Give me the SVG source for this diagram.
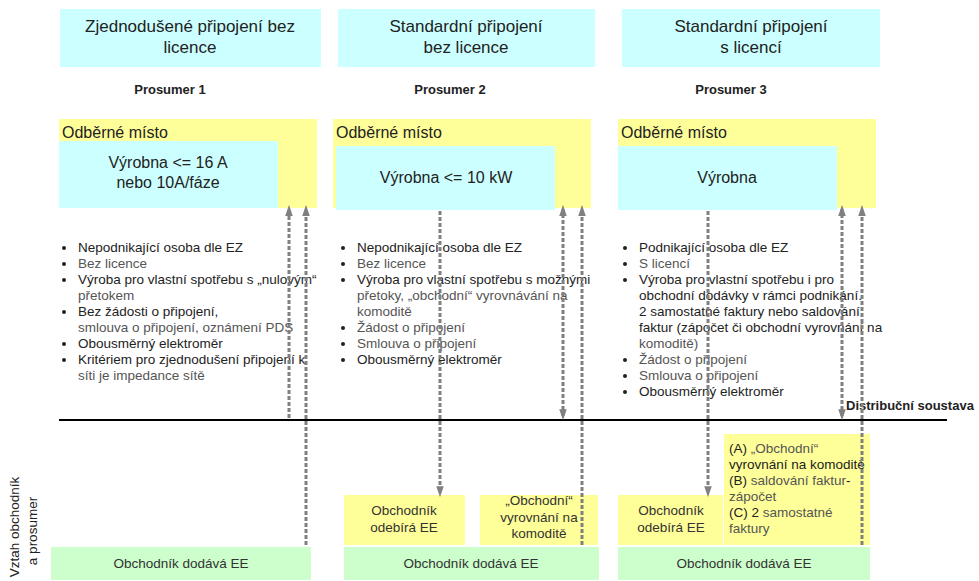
<svg xmlns="http://www.w3.org/2000/svg" width="979" height="581" viewBox="0 0 979 581">
  <style>
    text { font-family: "Liberation Sans", Arial, sans-serif; fill: #222; }
    .head { font-size: 17px; text-anchor: middle; }
    .pros { font-size: 13px; font-weight: bold; text-anchor: middle; }
    .om { font-size: 16px; }
    .vy { font-size: 16px; text-anchor: middle; }
    .li { font-size: 13.5px; }
    .g { fill: #555; }
    .bx { font-size: 13.5px; text-anchor: middle; fill: #333; }
    .bl { font-size: 13.5px; }
    .cyan { fill: #CCFFFF; }
    .yel { fill: #FFFF99; }
    .grn { fill: #CCFFCC; }
    .flow { stroke: #808080; stroke-width: 3; stroke-dasharray: 4 2; fill: none; }
    .dot { fill: #222; }
  </style>
  <defs>
    <marker id="ah" markerUnits="userSpaceOnUse" markerWidth="11" markerHeight="16" refX="10" refY="5.5" orient="auto-start-reverse" viewBox="0 0 16 11">
      <path d="M0,0 L16,5.5 L0,11 Z" fill="#808080"/>
    </marker>
  </defs>

  <rect width="979" height="581" fill="#fff"/>

  <!-- column headers -->
  <g id="head1"><rect class="cyan" x="60" y="9" width="261" height="58"/>
    <text class="head" x="190" y="32">Zjednodušené připojení bez</text>
    <text class="head" x="190" y="53">licence</text></g>
  <g id="head2"><rect class="cyan" x="338" y="9" width="257" height="58"/>
    <text class="head" x="466" y="32">Standardní připojení</text>
    <text class="head" x="466" y="53">bez licence</text></g>
  <g id="head3"><rect class="cyan" x="622" y="9" width="258" height="58"/>
    <text class="head" x="751" y="32">Standardní připojení</text>
    <text class="head" x="751" y="53">s licencí</text></g>

  <text class="pros" x="170" y="94">Prosumer 1</text>
  <text class="pros" x="450" y="94">Prosumer 2</text>
  <text class="pros" x="731" y="94">Prosumer 3</text>

  <!-- consumption points with generating plants -->
  <g id="om1"><rect class="yel" x="59" y="119" width="258" height="89"/>
    <text class="om" x="62" y="138">Odběrné místo</text>
    <rect class="cyan" x="59" y="141" width="219" height="67"/>
    <text class="vy" x="168" y="168">Výrobna &lt;= 16 A</text>
    <text class="vy" x="168" y="188">nebo 10A/fáze</text></g>
  <g id="om2"><rect class="yel" x="333" y="119" width="258" height="89"/>
    <text class="om" x="336" y="138">Odběrné místo</text>
    <rect class="cyan" x="336" y="146" width="219" height="64"/>
    <text class="vy" x="446" y="183">Výrobna &lt;= 10 kW</text></g>
  <g id="om3"><rect class="yel" x="618" y="119" width="258" height="89"/>
    <text class="om" x="621" y="138">Odběrné místo</text>
    <rect class="cyan" x="618" y="146" width="219" height="64"/>
    <text class="vy" x="727" y="183">Výrobna</text></g>

  <!-- bullet lists -->
  <g id="list1" class="li">
    <circle class="dot" cx="64" cy="248" r="2"/><text x="78" y="252">Nepodnikající osoba dle EZ</text>
    <circle class="dot" cx="64" cy="264" r="2"/><text class="g" x="78" y="268">Bez licence</text>
    <circle class="dot" cx="64" cy="280" r="2"/><text x="78" y="284">Výroba pro vlastní spotřebu s „nulovým“</text>
    <text class="g" x="78" y="300">přetokem</text>
    <circle class="dot" cx="64" cy="312" r="2"/><text x="78" y="316">Bez žádosti o připojení,</text>
    <text class="g" x="78" y="332">smlouva o připojení, oznámení PDS</text>
    <circle class="dot" cx="64" cy="344" r="2"/><text x="78" y="348">Obousměrný elektroměr</text>
    <circle class="dot" cx="64" cy="360" r="2"/><text x="78" y="364">Kritériem pro zjednodušení připojení k</text>
    <text class="g" x="78" y="380">síti je impedance sítě</text>
  </g>
  <g id="list2" class="li">
    <circle class="dot" cx="343" cy="248" r="2"/><text x="357" y="252">Nepodnikající osoba dle EZ</text>
    <circle class="dot" cx="343" cy="264" r="2"/><text class="g" x="357" y="268">Bez licence</text>
    <circle class="dot" cx="343" cy="280" r="2"/><text x="357" y="284">Výroba pro vlastní spotřebu s možnými</text>
    <text class="g" x="357" y="300">přetoky, „obchodní“ vyrovnávání na</text>
    <text class="g" x="357" y="316">komoditě</text>
    <circle class="dot" cx="343" cy="328" r="2"/><text class="g" x="357" y="332">Žádost o připojení</text>
    <circle class="dot" cx="343" cy="344" r="2"/><text class="g" x="357" y="348">Smlouva o připojení</text>
    <circle class="dot" cx="343" cy="360" r="2"/><text x="357" y="364">Obousměrný elektroměr</text>
  </g>
  <g id="list3" class="li">
    <circle class="dot" cx="625" cy="248" r="2"/><text x="639" y="252">Podnikající osoba dle EZ</text>
    <circle class="dot" cx="625" cy="264" r="2"/><text class="g" x="639" y="268">S licencí</text>
    <circle class="dot" cx="625" cy="280" r="2"/><text x="639" y="284">Výroba pro vlastní spotřebu i pro</text>
    <text x="639" y="300">obchodní dodávky v rámci podnikání.</text>
    <text x="639" y="316">2 samostatné faktury nebo saldování</text>
    <text x="639" y="332">faktur (zápočet či obchodní vyrovnání na</text>
    <text class="g" x="639" y="348">komoditě)</text>
    <circle class="dot" cx="625" cy="360" r="2"/><text class="g" x="639" y="364">Žádost o připojení</text>
    <circle class="dot" cx="625" cy="376" r="2"/><text class="g" x="639" y="380">Smlouva o připojení</text>
    <circle class="dot" cx="625" cy="392" r="2"/><text x="639" y="396">Obousměrný elektroměr</text>
  </g>

  <!-- distribution grid -->
  <g id="grid">
    <line x1="59" y1="420" x2="947" y2="420" stroke="#000" stroke-width="2"/>
    <text x="846" y="410" style="font-size:13px;font-weight:bold">Distribuční soustava</text>
  </g>

  <!-- relation boxes -->
  <g id="dod1"><rect class="grn" x="51" y="547" width="260" height="33"/>
    <text class="bx" x="181" y="568">Obchodník dodává EE</text></g>
  <g id="dod2"><rect class="grn" x="344" y="547" width="255" height="33"/>
    <text class="bx" x="471" y="568">Obchodník dodává EE</text></g>
  <g id="dod3"><rect class="grn" x="618" y="547" width="252" height="33"/>
    <text class="bx" x="744" y="568">Obchodník dodává EE</text></g>

  <g id="odb2"><rect class="yel" x="344" y="495" width="121" height="50"/>
    <text class="bx" x="404" y="515">Obchodník</text>
    <text class="bx" x="404" y="532">odebírá EE</text></g>
  <g id="vyr2"><rect class="yel" x="480" y="495" width="118" height="50"/>
    <text class="bx" x="539" y="505">„Obchodní“</text>
    <text class="bx" x="539" y="522">vyrovnání na</text>
    <text class="bx" x="539" y="538">komoditě</text></g>
  <g id="odb3"><rect class="yel" x="618" y="495" width="105" height="50"/>
    <text class="bx" x="671" y="515">Obchodník</text>
    <text class="bx" x="671" y="532">odebírá EE</text></g>
  <g id="vyr3"><rect class="yel" x="724" y="434" width="146" height="111"/>
    <text class="bl" x="729" y="453">(A) <tspan class="g">„Obchodní“</tspan></text>
    <text class="bl" x="729" y="469">vyrovnání na komoditě</text>
    <text class="bl" x="729" y="485">(B) <tspan class="g">saldování faktur</tspan>-</text>
    <text class="bl g" x="729" y="501">zápočet</text>
    <text class="bl" x="729" y="517">(C) 2 <tspan class="g">samostatné</tspan></text>
    <text class="bl g" x="729" y="533">faktury</text></g>

  <!-- row label for the supplier relation -->
  <text transform="translate(19,527) rotate(-90)" style="font-size:13.5px;text-anchor:middle" fill="#333">Vztah obchodník</text>
  <text transform="translate(37,531) rotate(-90)" style="font-size:13.5px;text-anchor:middle" fill="#333">a prosumer</text>

  <!-- energy flows -->
  <g id="connectors">
    <line class="flow" x1="289" y1="418" x2="289" y2="209" marker-end="url(#ah)"/>
    <line class="flow" x1="306" y1="545" x2="306" y2="209" marker-end="url(#ah)"/>
    <line class="flow" x1="440" y1="211" x2="440" y2="493" marker-end="url(#ah)"/>
    <line class="flow" x1="563" y1="416" x2="563" y2="209" marker-start="url(#ah)" marker-end="url(#ah)"/>
    <line class="flow" x1="582" y1="545" x2="582" y2="209" marker-end="url(#ah)"/>
    <line class="flow" x1="708" y1="211" x2="708" y2="493" marker-end="url(#ah)"/>
    <line class="flow" x1="842" y1="416" x2="842" y2="209" marker-start="url(#ah)" marker-end="url(#ah)"/>
    <line class="flow" x1="862" y1="545" x2="862" y2="209" marker-end="url(#ah)"/>
  </g>
</svg>
